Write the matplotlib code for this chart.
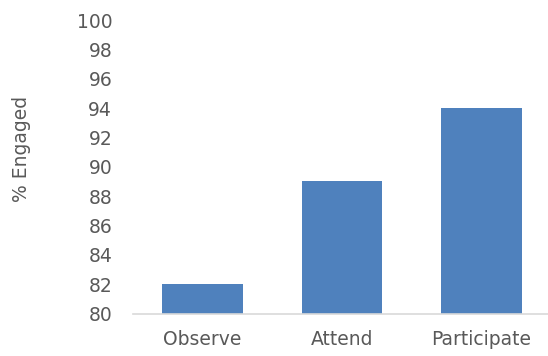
import numpy as np
import matplotlib.pyplot as plt

categories = ['Observe', 'Attend', 'Participate']
engaged = [82, 89, 94]
yticks = list(range(80, 101, 2))

W, H = 548, 356
fig = plt.figure(figsize=(W / 100, H / 100), dpi=100)
ax = fig.add_axes([133 / W, 1 - 313.5 / H, (W - 133) / W, (313.5 - 20) / H])

x = np.arange(len(categories))
ax.bar(x, engaged, width=0.58, color='#4f81bd', bottom=0)
ax.set_ylim(80, 100)
ax.set_xlim(-0.5, 2.48)
ax.set_yticks(yticks)
ax.set_xticks(x)
ax.set_xticklabels(categories)

for s in ['top', 'right', 'left']:
    ax.spines[s].set_visible(False)
ax.spines['bottom'].set_color('#d9d9d9')
ax.spines['bottom'].set_linewidth(1.2)

ax.tick_params(axis='both', length=0, labelsize=13.5, labelcolor='#595959')
ax.tick_params(axis='y', pad=15)
ax.tick_params(axis='x', pad=12)

fig.text(22 / W, 1 - 149 / H, '% Engaged', rotation=90, ha='center', va='center',
         fontsize=13.5, color='#595959')

fig.savefig('out.png', dpi=100)
